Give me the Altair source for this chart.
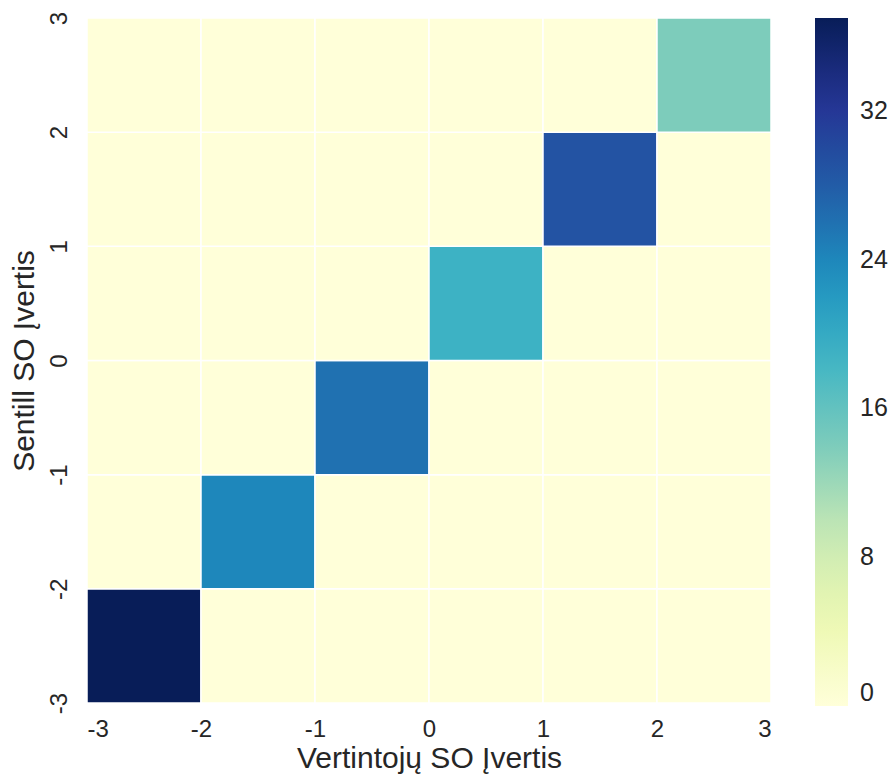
import altair as alt
import pandas as pd

# Score bins (lower edges) on both axes, and the counts on the diagonal
bins = [-3, -2, -1, 0, 1, 2]
diagonal_counts = [37, 24, 26, 19, 29, 14]
tick_values = [-3, -2, -1, 0, 1, 2, 3]
legend_values = [0, 8, 16, 24, 32]

# YlGnBu colour stops
ylgnbu = ["#ffffd9", "#edf8b1", "#c7e9b4", "#7fcdbb", "#41b6c4",
          "#1d91c0", "#225ea8", "#253494", "#081d58"]
vmax = 37
color_domain = [vmax * k / (len(ylgnbu) - 1) for k in range(len(ylgnbu))]

rows = []
for i, yb in enumerate(bins):
    for j, xb in enumerate(bins):
        rows.append({
            "x0": xb, "x1": xb + 1,
            "y0": yb, "y1": yb + 1,
            "count": diagonal_counts[i] if i == j else 0,
        })
df = pd.DataFrame(rows)

font = "Liberation Sans"
text_color = "#262626"
label_expr = "datum.value + ''"

chart = alt.Chart(df).mark_rect(stroke="white", strokeWidth=1.5).encode(
    x=alt.X("x0:Q",
            scale=alt.Scale(domain=[-3, 3], nice=False, zero=False),
            axis=alt.Axis(values=tick_values, labelExpr=label_expr, title="Vertintojų SO Įvertis",
                          ticks=False, grid=False, domain=False,
                          labelFontSize=24, titleFontSize=30, labelPadding=14,
                          titlePadding=2, labelColor=text_color, titleColor=text_color,
                          labelFont=font, titleFont=font, titleFontWeight="normal")),
    x2="x1:Q",
    y=alt.Y("y0:Q",
            scale=alt.Scale(domain=[-3, 3], nice=False, zero=False),
            axis=alt.Axis(values=tick_values, labelExpr=label_expr, title="Sentill SO Įvertis",
                          ticks=False, grid=False, domain=False, labelAngle=270,
                          labelAlign="center", labelBaseline="bottom",
                          labelFontSize=24, titleFontSize=30, labelPadding=16,
                          titlePadding=8, labelColor=text_color, titleColor=text_color,
                          labelFont=font, titleFont=font, titleFontWeight="normal")),
    y2="y1:Q",
    color=alt.Color("count:Q",
                    scale=alt.Scale(domain=color_domain, range=ylgnbu, interpolate="rgb"),
                    legend=alt.Legend(title=None, values=legend_values, gradientLength=688,
                                      gradientThickness=33, labelFontSize=25,
                                      labelBaseline="middle",
                                      labelColor=text_color, labelFont=font, offset=44,
                                      padding=0, labelOffset=12, gradientStrokeWidth=0)),
).properties(
    width=684,
    height=685,
    padding={"left": 87, "top": 18, "right": 120, "bottom": 75},
    autosize=alt.AutoSizeParams(type="none"),
).configure_view(stroke=None)

chart.save("out.html", embed_options={"renderer": "svg", "actions": False})
